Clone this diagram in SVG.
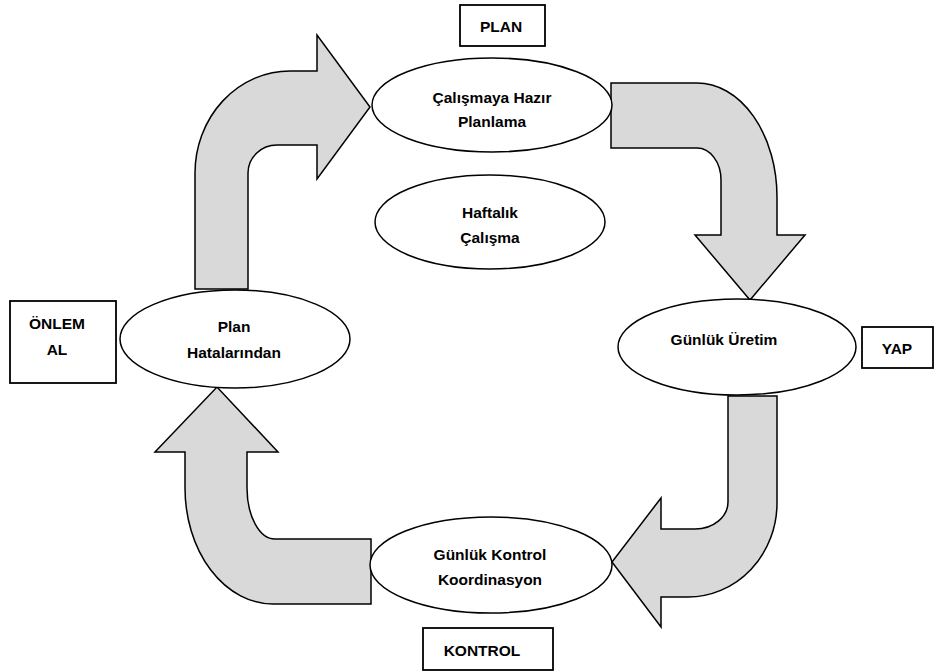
<svg xmlns="http://www.w3.org/2000/svg" width="936" height="672" viewBox="0 0 936 672">
  <style>
    .arrow { fill: #d9d9d9; stroke: #000; stroke-width: 1.5; stroke-linejoin: miter; }
    .node { fill: #fff; stroke: #000; stroke-width: 1.5; }
    .box { fill: #fff; stroke: #000; stroke-width: 1.8; }
    .lbl { font-family: "Liberation Sans", Arial, sans-serif; font-weight: bold; font-size: 15.5px; fill: #000; text-anchor: middle; }
  </style>
  <rect width="936" height="672" fill="#fff"/>

  <!-- curved block arrows of the cycle -->
  <g id="connectors">
    <path class="arrow" d="M195,289 L195,173 A95,102 0 0 1 290,71 L317,71 L317,35 L370,107 L317,179 L317,145 L277,145 A29,28 0 0 0 248,173 L248,289 Z"/>
    <path class="arrow" d="M611,83 L697,83 A80,114 0 0 1 777,197 L777,235 L805,235 L750,300 L695,235 L721,235 L721,180 A24,32 0 0 0 697,148 L611,148 Z"/>
    <path class="arrow" d="M728,396 L777,396 L777,503 A89,94 0 0 1 688,597 L661,597 L661,627 L612,562 L661,498 L661,529 L695,529 A33,27 0 0 0 728,502 Z"/>
    <path class="arrow" d="M371,539 L371,604 L273,604 A88,116 0 0 1 185,488 L185,452 L155,452 L217,387 L278,452 L247,452 L247,488 A28,51 0 0 0 275,539 Z"/>
  </g>

  <g id="node-planlama">
    <ellipse class="node" cx="492" cy="105" rx="120" ry="47"/>
    <text class="lbl" x="492" y="103">Çalışmaya Hazır</text>
    <text class="lbl" x="492" y="127">Planlama</text>
  </g>

  <g id="node-haftalik">
    <ellipse class="node" cx="490" cy="222" rx="115" ry="47"/>
    <text class="lbl" x="490" y="218">Haftalık</text>
    <text class="lbl" x="490" y="243">Çalışma</text>
  </g>

  <g id="node-uretim">
    <ellipse class="node" cx="737" cy="347" rx="119" ry="48"/>
    <text class="lbl" x="724" y="345">Günlük Üretim</text>
  </g>

  <g id="node-kontrol">
    <ellipse class="node" cx="491" cy="565" rx="121" ry="48"/>
    <text class="lbl" x="490" y="560">Günlük Kontrol</text>
    <text class="lbl" x="490" y="585">Koordinasyon</text>
  </g>

  <g id="node-hatalar">
    <ellipse class="node" cx="235" cy="339" rx="115" ry="49"/>
    <text class="lbl" x="234" y="332">Plan</text>
    <text class="lbl" x="234" y="358">Hatalarından</text>
  </g>

  <g id="label-plan">
    <rect class="box" x="460" y="5" width="85" height="41"/>
    <text class="lbl" x="501" y="32">PLAN</text>
  </g>

  <g id="label-yap">
    <rect class="box" x="862" y="327" width="71" height="41"/>
    <text class="lbl" x="897" y="354">YAP</text>
  </g>

  <g id="label-kontrol">
    <rect class="box" x="423" y="628" width="130" height="42"/>
    <text class="lbl" x="482" y="656">KONTROL</text>
  </g>

  <g id="label-onlem">
    <rect class="box" x="10" y="301" width="106" height="82"/>
    <text class="lbl" x="57" y="329">ÖNLEM</text>
    <text class="lbl" x="57" y="355">AL</text>
  </g>
</svg>
